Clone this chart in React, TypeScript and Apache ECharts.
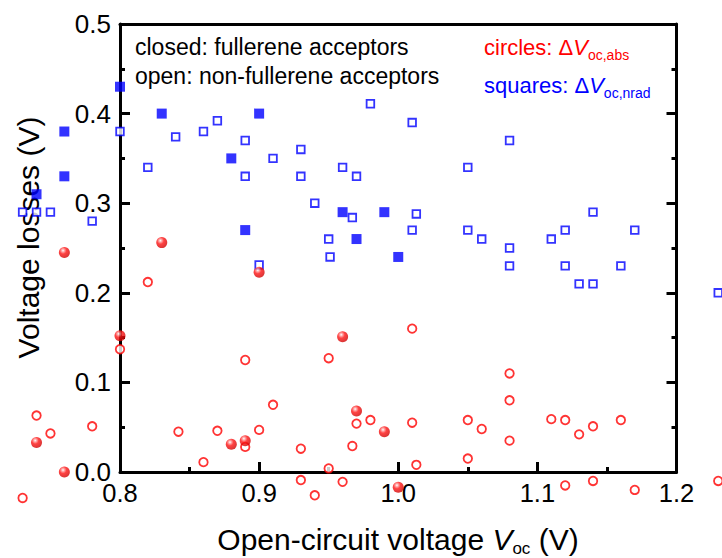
import React, { useEffect, useRef } from 'react';
import * as echarts from 'echarts';

// Fullerene acceptors (closed symbols)
const fullNradX = [0.80, 0.83, 0.90, 0.76, 0.76, 0.74, 0.88, 0.89, 0.96, 0.97, 0.99, 1.00];
const fullNradY = [0.43, 0.40, 0.40, 0.38, 0.33, 0.31, 0.35, 0.27, 0.29, 0.26, 0.29, 0.24];
const fullAbsX = [0.76, 0.83, 0.90, 0.80, 0.96, 0.88, 0.89, 0.74, 0.76, 0.97, 0.99, 1.00];
const fullAbsY = [0.245, 0.256, 0.223, 0.152, 0.151, 0.031, 0.035, 0.033, 0.0, 0.068, 0.045, -0.017];

// Non-fullerene acceptors (open symbols)
const nfaNradX = [0.80, 0.73, 0.74, 0.75, 0.78, 0.82, 0.84, 0.86, 0.87, 0.89, 0.89, 0.91, 0.93, 0.93, 0.94, 0.96, 0.97, 0.967, 0.95, 0.951, 0.90, 0.98, 1.01, 1.08, 1.05, 1.013, 1.01, 1.05, 1.06, 1.08, 1.08, 1.11, 1.12, 1.14, 1.17, 1.12, 1.16, 1.13, 1.14, 1.23];
const nfaNradY = [0.38, 0.29, 0.29, 0.29, 0.28, 0.34, 0.374, 0.38, 0.392, 0.37, 0.33, 0.35, 0.36, 0.33, 0.30, 0.34, 0.33, 0.284, 0.26, 0.24, 0.231, 0.411, 0.39, 0.37, 0.34, 0.288, 0.27, 0.27, 0.26, 0.25, 0.23, 0.26, 0.27, 0.29, 0.27, 0.23, 0.23, 0.21, 0.21, 0.20];
const nfaAbsX = [0.82, 0.80, 0.89, 0.95, 0.91, 0.74, 0.75, 0.78, 0.842, 0.87, 0.90, 0.89, 0.86, 0.93, 0.967, 0.97, 0.95, 0.93, 0.94, 0.96, 0.73, 1.01, 0.98, 1.01, 1.013, 1.05, 1.06, 1.05, 1.08, 1.08, 1.08, 1.11, 1.12, 1.13, 1.14, 1.16, 1.12, 1.14, 1.17, 1.23];
const nfaAbsY = [0.212, 0.137, 0.125, 0.127, 0.075, 0.063, 0.043, 0.051, 0.045, 0.046, 0.047, 0.028, 0.011, 0.026, 0.029, 0.054, 0.004, -0.009, -0.026, -0.011, -0.029, 0.160, 0.058, 0.055, 0.008, 0.058, 0.048, 0.015, 0.110, 0.080, 0.035, 0.059, 0.058, 0.042, 0.051, 0.058, -0.015, -0.010, -0.020, -0.010];

const xTicks = [0.8, 0.9, 1.0, 1.1, 1.2];
const yTicks = [0.0, 0.1, 0.2, 0.3, 0.4, 0.5];

const FONT = '"Liberation Sans", Arial, Helvetica, sans-serif';
const RED = '#ff0000';
const BLUE = '#0000ff';

const zip = (xs: number[], ys: number[]) => xs.map((x, i) => [x, ys[i]]);

export default function App() {
  const ref = useRef<HTMLDivElement>(null);
  useEffect(() => {
    if (!ref.current) return;
    const chart = echarts.init(ref.current, null, { renderer: 'svg' });
    const axisLine = { show: true, onZero: false, lineStyle: { color: '#000', width: 3 } };
    const tick = { show: true, inside: true, length: 10, lineStyle: { color: '#000', width: 3 } };
    const minor = { show: true, splitNumber: 2, length: 5, lineStyle: { color: '#000', width: 3 } };
    const sphere = {
      type: 'radial', x: 0.38, y: 0.32, r: 0.75,
      colorStops: [
        { offset: 0, color: '#ffffff' },
        { offset: 0.16, color: '#ff9a9a' },
        { offset: 0.42, color: '#ff1414' },
        { offset: 1, color: '#c80000' },
      ],
    };
    chart.setOption({
      animation: false,
      backgroundColor: '#ffffff',
      grid: { left: 120, right: 45.5, top: 24, bottom: 86 },
      xAxis: [
        {
          type: 'value', position: 'bottom', min: xTicks[0], max: xTicks[xTicks.length - 1], interval: 0.1,
          axisLine, axisTick: tick, minorTick: minor, splitLine: { show: false },
          axisLabel: { color: '#000', fontSize: 25.5, fontFamily: FONT, margin: 8, formatter: (v: number) => v.toFixed(1) },
        },
        {
          type: 'value', position: 'top', min: xTicks[0], max: xTicks[xTicks.length - 1],
          axisLine, axisTick: { show: false }, axisLabel: { show: false }, splitLine: { show: false },
        },
      ],
      yAxis: [
        {
          type: 'value', position: 'left', min: yTicks[0], max: yTicks[yTicks.length - 1], interval: 0.1,
          axisLine, axisTick: tick, minorTick: minor, splitLine: { show: false },
          axisLabel: { color: '#000', fontSize: 26, fontFamily: FONT, margin: 9, formatter: (v: number) => v.toFixed(1) },
        },
        {
          type: 'value', position: 'right', min: yTicks[0], max: yTicks[yTicks.length - 1], interval: 0.1,
          axisLine, axisTick: tick, minorTick: minor, splitLine: { show: false },
          axisLabel: { show: false },
        },
      ],
      graphic: [
        {
          type: 'text', x: 28, y: 237.5, rotation: Math.PI / 2,
          style: { text: 'Voltage losses (V)', fontSize: 30, fontFamily: FONT, fill: '#000', align: 'center', verticalAlign: 'middle' },
        },
        {
          type: 'text', x: 398, y: 539,
          style: {
            text: '{a|Open-circuit voltage }{i|V}{s|oc}{a| (V)}', align: 'center', verticalAlign: 'middle',
            rich: {
              a: { fontSize: 30, lineHeight: 36, fontFamily: FONT, fill: '#000' },
              i: { fontSize: 30, lineHeight: 36, fontFamily: FONT, fontStyle: 'italic', fill: '#000' },
              s: { fontSize: 17, lineHeight: 13, fontFamily: FONT, fill: '#000', verticalAlign: 'bottom' },
            },
          },
        },
        {
          type: 'text', x: 135, y: 47,
          style: { text: 'closed: fullerene acceptors', fontSize: 23, fontFamily: FONT, fill: '#000', align: 'left', verticalAlign: 'middle' },
        },
        {
          type: 'text', x: 135, y: 75.5,
          style: { text: 'open: non-fullerene acceptors', fontSize: 23, fontFamily: FONT, fill: '#000', align: 'left', verticalAlign: 'middle' },
        },
        {
          type: 'text', x: 484, y: 47,
          style: {
            text: '{a|circles: Δ}{i|V}{s|oc,abs}', align: 'left', verticalAlign: 'middle',
            rich: {
              a: { fontSize: 22, lineHeight: 30, fontFamily: FONT, fill: RED },
              i: { fontSize: 22, lineHeight: 30, fontFamily: FONT, fontStyle: 'italic', fill: RED },
              s: { fontSize: 14, lineHeight: 10, fontFamily: FONT, fill: RED, verticalAlign: 'bottom' },
            },
          },
        },
        {
          type: 'text', x: 484, y: 85,
          style: {
            text: '{a|squares: Δ}{i|V}{s|oc,nrad}', align: 'left', verticalAlign: 'middle',
            rich: {
              a: { fontSize: 22, lineHeight: 30, fontFamily: FONT, fill: BLUE },
              i: { fontSize: 22, lineHeight: 30, fontFamily: FONT, fontStyle: 'italic', fill: BLUE },
              s: { fontSize: 14, lineHeight: 10, fontFamily: FONT, fill: BLUE, verticalAlign: 'bottom' },
            },
          },
        },
      ],
      series: [
        {
          name: 'NFA nrad', type: 'scatter', clip: false, symbol: 'rect', symbolSize: 7.6,
          itemStyle: { color: '#ffffff', borderColor: BLUE, borderWidth: 1.8 },
          data: zip(nfaNradX, nfaNradY),
        },
        {
          name: 'Fullerene nrad', type: 'scatter', clip: false, symbol: 'rect', symbolSize: 10,
          itemStyle: { color: BLUE },
          data: zip(fullNradX, fullNradY),
        },
        {
          name: 'NFA abs', type: 'scatter', clip: false, symbol: 'circle', symbolSize: 8.5,
          itemStyle: { color: '#ffffff', borderColor: RED, borderWidth: 1.8 },
          data: zip(nfaAbsX, nfaAbsY),
        },
        {
          name: 'Fullerene abs', type: 'scatter', clip: false, symbol: 'circle', symbolSize: 11,
          itemStyle: { color: sphere },
          data: zip(fullAbsX, fullAbsY),
        },
      ],
    });
    return () => chart.dispose();
  }, []);
  return (
    <div
      ref={ref}
      style={{ position: 'fixed', left: 0, top: 0, width: 722, height: 558, background: '#fff' }}
    />
  );
}
